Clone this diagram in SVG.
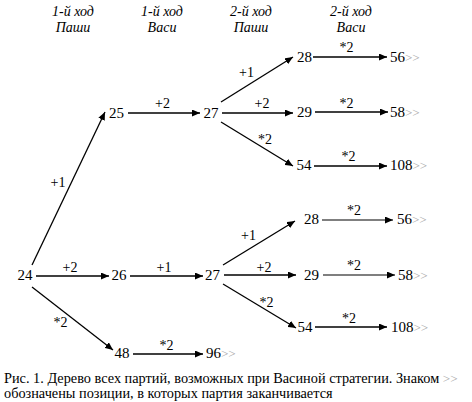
<svg xmlns="http://www.w3.org/2000/svg" width="472" height="402" viewBox="0 0 472 402" font-family="Liberation Serif, serif">
<style>
text{font-family:"Liberation Serif",serif}
.n{font-size:15px;text-anchor:middle}
.ns{font-size:15px}
.e{font-size:13px;fill:#aaa}
.l{font-size:14px;text-anchor:middle}
.h{font-size:14px;font-style:italic;text-anchor:middle}
.c{font-size:14.3px}
line{stroke:#000;stroke-width:1.3;marker-end:url(#ah)}
line.g{stroke:#555}
</style>
<defs>
<marker id="ah" markerUnits="userSpaceOnUse" markerWidth="9" markerHeight="7" refX="8" refY="3.5" orient="auto">
<path d="M0,0 L8,3.5 L0,7 Z" fill="#000"/>
</marker>
</defs>
<rect width="472" height="402" fill="#fff"/>
<g id="headers">
<text class="h" x="73" y="16">1-й ход</text><text class="h" x="73" y="32">Паши</text>
<text class="h" x="162" y="16">1-й ход</text><text class="h" x="162" y="32">Васи</text>
<text class="h" x="251" y="16">2-й ход</text><text class="h" x="251" y="32">Паши</text>
<text class="h" x="351" y="16">2-й ход</text><text class="h" x="351" y="32">Васи</text>
</g>
<g id="connectors">
<line x1="32" y1="265" x2="105" y2="112"/>
<line x1="128" y1="113" x2="200" y2="113"/>
<line x1="221" y1="102" x2="293" y2="57"/>
<line x1="222" y1="113" x2="293" y2="113"/>
<line x1="221" y1="122" x2="293" y2="166"/>
<line x1="313" y1="57" x2="387" y2="57"/>
<line x1="315" y1="112" x2="388" y2="112"/>
<line x1="314" y1="166" x2="387" y2="166"/>
<line x1="36" y1="276" x2="109" y2="276"/>
<line x1="130" y1="276" x2="203" y2="276"/>
<line x1="223" y1="265" x2="295" y2="221"/>
<line x1="224" y1="275" x2="296" y2="275"/>
<line x1="223" y1="284" x2="296" y2="328"/>
<line class="g" x1="322" y1="220" x2="393" y2="220"/>
<line class="g" x1="323" y1="275" x2="395" y2="275"/>
<line x1="315" y1="327" x2="387" y2="327"/>
<line x1="32" y1="287" x2="113" y2="350"/>
<line x1="133" y1="354" x2="203" y2="354"/>
<text class="l" x="58" y="187">+1</text>
<text class="l" x="162.5" y="108">+2</text>
<text class="l" x="246.5" y="77">+1</text>
<text class="l" x="262" y="108">+2</text>
<text class="l" x="265" y="144">*2</text>
<text class="l" x="346.5" y="52">*2</text>
<text class="l" x="346.5" y="108">*2</text>
<text class="l" x="348.5" y="161">*2</text>
<text class="l" x="70" y="272">+2</text>
<text class="l" x="164" y="272">+1</text>
<text class="l" x="248.5" y="240">+1</text>
<text class="l" x="264" y="272">+2</text>
<text class="l" x="266.5" y="307">*2</text>
<text class="l" x="354" y="215">*2</text>
<text class="l" x="354" y="270">*2</text>
<text class="l" x="349" y="323">*2</text>
<text class="l" x="60.5" y="327">*2</text>
<text class="l" x="166.5" y="350">*2</text>
</g>
<g id="n24"><text class="n" x="25" y="280">24</text></g>
<g id="n25"><text class="n" x="116.5" y="118">25</text></g>
<g id="n26"><text class="n" x="119" y="280">26</text></g>
<g id="n27a"><text class="n" x="211" y="118">27</text></g>
<g id="n27b"><text class="n" x="212.5" y="280">27</text></g>
<g id="n28a"><text class="n" x="304.5" y="62">28</text></g>
<g id="n29a"><text class="n" x="304.5" y="117">29</text></g>
<g id="n54a"><text class="n" x="304" y="170">54</text></g>
<g id="n28b"><text class="n" x="311.5" y="224">28</text></g>
<g id="n29b"><text class="n" x="311.5" y="280">29</text></g>
<g id="n54b"><text class="n" x="305" y="332">54</text></g>
<g id="n48"><text class="n" x="122" y="358">48</text></g>
<g id="n56a"><text class="ns" x="390" y="62">56<tspan class="e">&gt;&gt;</tspan></text></g>
<g id="n58a"><text class="ns" x="390" y="117">58<tspan class="e">&gt;&gt;</tspan></text></g>
<g id="n108a"><text class="ns" x="390" y="170">108<tspan class="e">&gt;&gt;</tspan></text></g>
<g id="n56b"><text class="ns" x="397" y="224">56<tspan class="e">&gt;&gt;</tspan></text></g>
<g id="n58b"><text class="ns" x="398" y="280">58<tspan class="e">&gt;&gt;</tspan></text></g>
<g id="n108b"><text class="ns" x="391" y="332">108<tspan class="e">&gt;&gt;</tspan></text></g>
<g id="n96"><text class="ns" x="206" y="358">96<tspan class="e">&gt;&gt;</tspan></text></g>
<g id="caption">
<text class="c" x="4" y="383">Рис. 1. Дерево всех партий, возможных при Васиной стратегии. Знаком <tspan class="e">&gt;&gt;</tspan></text>
<text class="c" x="4" y="398">обозначены позиции, в которых партия заканчивается</text>
</g>
</svg>
